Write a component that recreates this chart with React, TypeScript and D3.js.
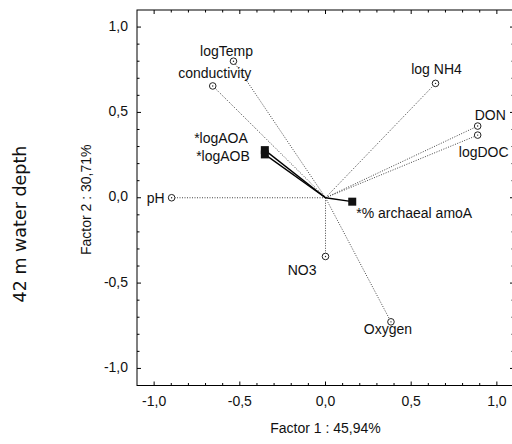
import React from "react";
import * as d3 from "d3";

// active variables (open circles, dotted lines)
const variables = ["logTemp", "conductivity", "log NH4", "DON", "logDOC", "pH", "NO3", "Oxygen"];
const factor1 = [-0.537, -0.658, 0.642, 0.888, 0.888, -0.898, 0.0, 0.382];
const factor2 = [0.8, 0.655, 0.67, 0.42, 0.367, 0.0, -0.344, -0.727];

// supplementary variables (filled squares, solid lines)
const supplementary = ["*logAOA", "*logAOB", "*% archaeal amoA"];
const supFactor1 = [-0.354, -0.354, 0.156];
const supFactor2 = [0.279, 0.254, -0.023];

const majorTicks = [-1.0, -0.5, 0.0, 0.5, 1.0];
const minorTicks = d3.range(-10, 11).map((i) => i / 10);

const xTitle = "Factor 1 : 45,94%";
const yTitle = "Factor 2 : 30,71%";
const sideTitle = "42 m water depth";

// label placement relative to the point: [dx, dy, anchor]
const labelPos: Record<string, [number, number, string]> = {
  logTemp: [-7, -5, "middle"],
  conductivity: [2, -8, "middle"],
  "log NH4": [1, -9, "middle"],
  DON: [-3, -6, "start"],
  logDOC: [6, 22, "middle"],
  pH: [-7, 5, "end"],
  NO3: [-9, 19, "end"],
  Oxygen: [-3, 12, "middle"],
  "*logAOA": [-17, -7, "end"],
  "*logAOB": [-15, 7, "end"],
  "*% archaeal amoA": [4, 16, "start"],
};

const W = 512;
const H = 444;
const font = "'Liberation Sans', Arial, sans-serif";
const fmt = (v: number) => d3.format(".1f")(v).replace(".", ",").replace("\u2212", "-");

export default function App() {
  const x = d3.scaleLinear().domain([-1.1, 1.1]).range([137, 514]);
  const y = d3.scaleLinear().domain([-1.1, 1.1]).range([385.5, 10]);
  const [x0, x1] = x.range();
  const [y0, y1] = y.range();
  const tickLen = (v: number) => (majorTicks.some((m) => Math.abs(m - v) < 1e-9) ? 4 : 2.5);

  return (
    <svg
      width={W}
      height={H}
      style={{ position: "absolute", left: 0, top: 0, background: "#fff" }}
      fontFamily={font}
    >
      {/* frame */}
      <rect x={x0} y={y1} width={x1 - x0} height={y0 - y1} fill="none" stroke="#000" strokeWidth={1} />

      {/* ticks, inside on all four sides */}
      {minorTicks.map((v, i) => (
        <g key={i} stroke="#000" strokeWidth={1}>
          <line x1={x(v)} x2={x(v)} y1={y0} y2={y0 - tickLen(v)} />
          <line x1={x(v)} x2={x(v)} y1={y1} y2={y1 + tickLen(v)} />
          <line x1={x0} x2={x0 + tickLen(v)} y1={y(v)} y2={y(v)} />
          <line x1={x1} x2={x1 - tickLen(v)} y1={y(v)} y2={y(v)} />
        </g>
      ))}

      {/* tick labels */}
      {majorTicks.map((v, i) => (
        <g key={i} fontSize={14} fill="#111">
          <text x={x(v)} y={406} textAnchor="middle">
            {fmt(v)}
          </text>
          <text x={128} y={y(v)} textAnchor="end" dominantBaseline="middle">
            {fmt(v)}
          </text>
        </g>
      ))}

      {/* axis titles */}
      <text x={x(0)} y={433} textAnchor="middle" fontSize={14} fill="#111">
        {xTitle}
      </text>
      <text
        transform={`translate(91,${y(0) + 2}) rotate(-90)`}
        textAnchor="middle"
        fontSize={14}
        fill="#111"
      >
        {yTitle}
      </text>
      <text
        transform={`translate(26,224) rotate(-90)`}
        textAnchor="middle"
        fontSize={17.5}
        fontFamily="'DejaVu Sans', sans-serif"
        fill="#111"
      >
        {sideTitle}
      </text>

      {/* active variable vectors */}
      {variables.map((name, i) => (
        <line
          key={name}
          x1={x(0)}
          y1={y(0)}
          x2={x(factor1[i])}
          y2={y(factor2[i])}
          stroke="#444"
          strokeWidth={1}
          strokeDasharray="1,1.5"
        />
      ))}
      {variables.map((name, i) => (
        <g key={name}>
          <circle cx={x(factor1[i])} cy={y(factor2[i])} r={3.3} fill="#fff" stroke="#222" strokeWidth={1} />
          <circle cx={x(factor1[i])} cy={y(factor2[i])} r={0.7} fill="#222" />
        </g>
      ))}

      {/* supplementary variable vectors */}
      {supplementary.map((name, i) => (
        <line
          key={name}
          x1={x(0)}
          y1={y(0)}
          x2={x(supFactor1[i])}
          y2={y(supFactor2[i])}
          stroke="#000"
          strokeWidth={1.4}
        />
      ))}
      {supplementary.map((name, i) => (
        <rect
          key={name}
          x={x(supFactor1[i]) - 4}
          y={y(supFactor2[i]) - 4}
          width={8}
          height={8}
          fill="#111"
        />
      ))}

      {/* point labels */}
      {[...variables.map((n, i) => [n, factor1[i], factor2[i]] as const),
        ...supplementary.map((n, i) => [n, supFactor1[i], supFactor2[i]] as const)].map(([name, fx, fy]) => {
        const [dx, dy, anchor] = labelPos[name];
        return (
          <text key={name} x={x(fx) + dx} y={y(fy) + dy} textAnchor={anchor} fontSize={14} fill="#111">
            {name}
          </text>
        );
      })}
    </svg>
  );
}
